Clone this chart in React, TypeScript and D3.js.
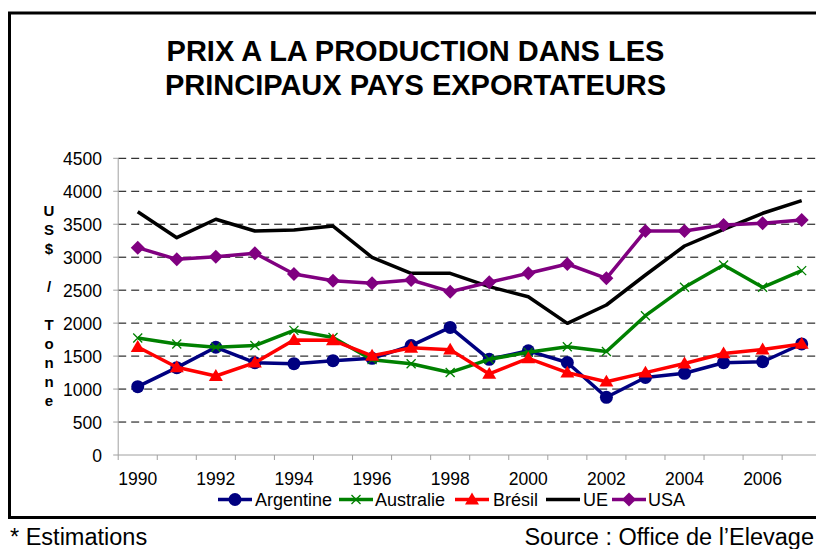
import React from "react";
import * as d3 from "d3";

const years = [1990,1991,1992,1993,1994,1995,1996,1997,1998,1999,2000,2001,2002,2003,2004,2005,2006,2007];
const argentine = [1036,1325,1634,1400,1385,1431,1466,1660,1935,1451,1580,1403,875,1175,1239,1400,1414,1684];
const australie = [1775,1684,1634,1660,1890,1782,1446,1385,1252,1451,1557,1643,1570,2113,2543,2882,2543,2796];
const bresil = [1638,1330,1198,1400,1744,1740,1505,1625,1598,1229,1466,1249,1112,1249,1388,1540,1600,1684];
const ue = [3690,3296,3575,3398,3413,3473,2998,2756,2756,2553,2401,1997,2275,2730,3170,3423,3666,3857];
const usa = [3145,2968,3008,3059,2745,2644,2604,2654,2477,2619,2756,2897,2680,3398,3398,3489,3514,3564];
const yTicks = [0,500,1000,1500,2000,2500,3000,3500,4000,4500];
const xLabels = [1990,1992,1994,1996,1998,2000,2002,2004,2006];
const seriesNames = ["Argentine","Australie","Brésil","UE","USA"];
const seriesColors = ["#000080","#008000","#FF0000","#000000","#800080"];
const seriesMarkers = ["circle","x","triangle","none","diamond"];
const seriesData = [argentine, australie, bresil, ue, usa];
const titleLines = ["PRIX A LA PRODUCTION DANS LES","PRINCIPAUX PAYS EXPORTATEURS"];
const yTitleChars = ["U","S","$","","/","","T","o","n","n","e"];

const FONT = "'Liberation Sans', Arial, sans-serif";

function Marker({ type, cx, cy, color }: { type: string; cx: number; cy: number; color: string }) {
  if (type === "circle") return <circle cx={cx} cy={cy} r={6.5} fill={color} />;
  if (type === "triangle") {
    const s = 7;
    return <path d={`M${cx},${cy - s}L${cx + s},${cy + s * 0.7}L${cx - s},${cy + s * 0.7}Z`} fill={color} />;
  }
  if (type === "diamond") {
    const s = 7;
    return <path d={`M${cx},${cy - s}L${cx + s},${cy}L${cx},${cy + s}L${cx - s},${cy}Z`} fill={color} />;
  }
  if (type === "x") {
    const s = 4.5;
    return <path d={`M${cx - s},${cy - s}L${cx + s},${cy + s}M${cx + s},${cy - s}L${cx - s},${cy + s}`} stroke={color} strokeWidth={1.3} fill="none" />;
  }
  return null;
}

export default function App() {
  const W = 816, H = 549;
  const plotLeft = 118.2, plotRight = 821.2, plotTop = 158.3, plotBottom = 455;
  const x = d3.scaleBand<number>().domain(years).range([plotLeft, plotRight]).paddingInner(0).paddingOuter(0);
  const bw = x.bandwidth();
  const cx = (yr: number) => (x(yr) as number) + bw / 2;
  const y = d3.scaleLinear().domain([0, 4500]).range([plotBottom, plotTop]);
  const line = d3.line<number>().x((_, i) => cx(years[i])).y((d) => y(d));

  const legendItems = [
    { lx: 218, tx: 255 },
    { lx: 339, tx: 375 },
    { lx: 455, tx: 493 },
    { lx: 546, tx: 583 },
    { lx: 612, tx: 648 },
  ];
  const legendY = 499.5;

  return (
    <svg width={W} height={H} style={{ position: "absolute", left: 0, top: 0, background: "#fff" }} fontFamily={FONT}>
      <rect x={0} y={0} width={W} height={H} fill="#fff" />
      <rect x={9.5} y={13} width={W + 20} height={504.5} fill="none" stroke="#000" strokeWidth={3} />
      {titleLines.map((t, i) => (
        <text key={i} x={415.5} y={61 + i * 34} textAnchor="middle" fontWeight="bold" fontSize={29} fill="#000">{t}</text>
      ))}
      {/* gridlines */}
      {yTicks.filter((v) => v > 0).map((v) => (
        <line key={v} x1={plotLeft} x2={plotRight} y1={y(v)} y2={y(v)} stroke="#000" strokeWidth={1} strokeDasharray="8,5" />
      ))}
      {/* axes */}
      <line x1={plotLeft} x2={plotLeft} y1={plotTop} y2={plotBottom} stroke="#a0a0a0" strokeWidth={1} />
      <line x1={plotLeft} x2={plotRight} y1={plotBottom} y2={plotBottom} stroke="#a0a0a0" strokeWidth={1} />
      {yTicks.map((v) => (
        <g key={v}>
          <line x1={plotLeft - 5} x2={plotLeft} y1={y(v)} y2={y(v)} stroke="#a0a0a0" />
          <text x={102} y={y(v) + 6.5} textAnchor="end" fontSize={17.5} fill="#000">{v}</text>
        </g>
      ))}
      {years.map((yr) => (
        <line key={yr} x1={x(yr) as number} x2={x(yr) as number} y1={plotBottom} y2={plotBottom + 5} stroke="#a0a0a0" />
      ))}
      {xLabels.map((yr) => (
        <text key={yr} x={cx(yr)} y={485} textAnchor="middle" fontSize={17.5} fill="#000">{yr}</text>
      ))}
      {/* y axis title */}
      {yTitleChars.map((c, i) => (
        <text key={i} x={49} y={216 + i * 19} textAnchor="middle" fontWeight="bold" fontSize={15} fill="#000">{c}</text>
      ))}
      {/* series */}
      {seriesData.map((data, si) => (
        <g key={si}>
          <path d={line(data) || ""} fill="none" stroke={seriesColors[si]} strokeWidth={3.5} strokeLinejoin="round" />
          {data.map((v, i) => (
            <Marker key={i} type={seriesMarkers[si]} cx={cx(years[i])} cy={y(v)} color={seriesColors[si]} />
          ))}
        </g>
      ))}
      {/* legend */}
      {seriesNames.map((n, i) => (
        <g key={n}>
          <line x1={legendItems[i].lx} x2={legendItems[i].lx + 34} y1={legendY} y2={legendY} stroke={seriesColors[i]} strokeWidth={3.5} />
          <Marker type={seriesMarkers[i]} cx={legendItems[i].lx + 17} cy={legendY} color={seriesColors[i]} />
          <text x={legendItems[i].tx} y={legendY + 6.5} fontSize={18} fill="#000">{n}</text>
        </g>
      ))}
      {/* footer */}
      <text x={10} y={544.5} fontSize={23.5} fill="#000">* Estimations</text>
      <text x={814} y={544.5} fontSize={23.5} textAnchor="end" fill="#000">Source : Office de l’Elevage</text>
    </svg>
  );
}
